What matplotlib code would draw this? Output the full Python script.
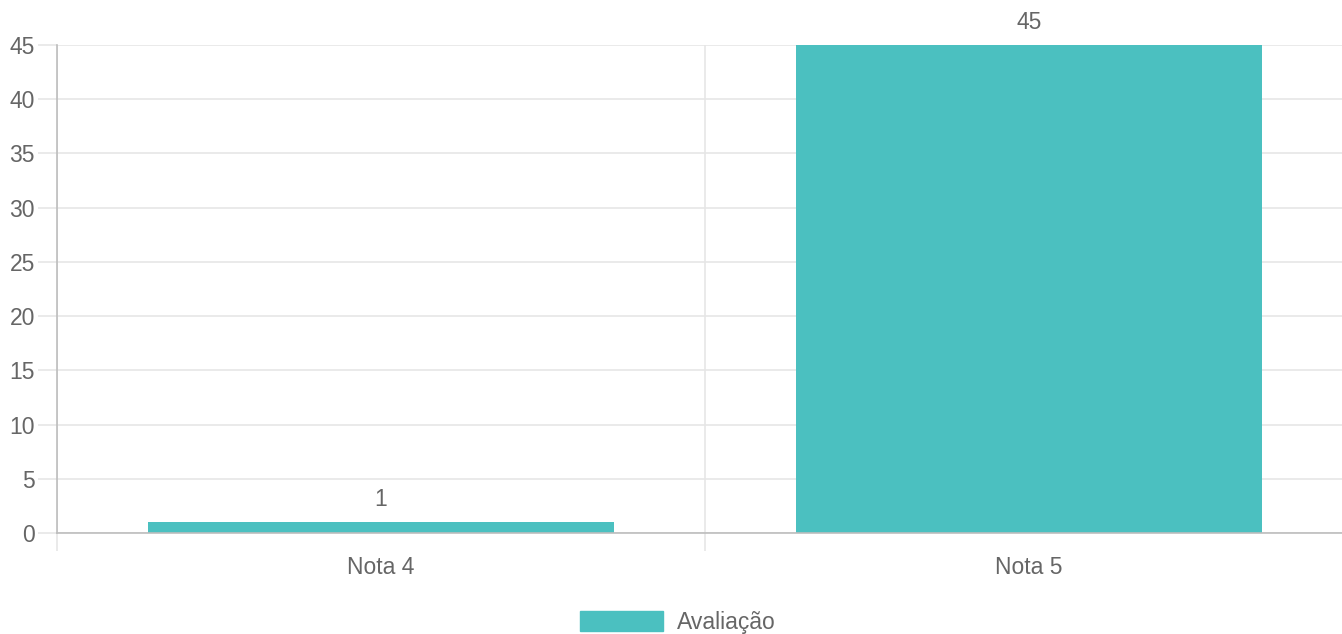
import matplotlib.pyplot as plt
from matplotlib.patches import Patch
import numpy as np

categories = ['Nota 4', 'Nota 5']
values = [1, 45]
series_name = 'Avaliação'
yticks = [0, 5, 10, 15, 20, 25, 30, 35, 40, 45]

bar_color = '#4bc0c0'
text_color = '#666666'
grid_color = '#e6e6e6'
axis_color = '#bdbdbd'

plt.rcParams['font.family'] = ['Liberation Sans', 'DejaVu Sans']
fs = 16.5

W, H = 1342, 634
fig = plt.figure(figsize=(W / 100, H / 100), dpi=100)
# axes right edge runs past the picture (chart is cropped)
ax = fig.add_axes([57 / W, (H - 533) / H, (1353 - 57) / W, (533 - 45) / H])

x = np.arange(len(categories))
bars = ax.bar(x, values, width=0.72, color=bar_color, zorder=3)

ax.set_xlim(-0.5, len(categories) - 0.5)
ax.set_ylim(0, 45)

# horizontal grid + y ticks
ax.set_yticks(yticks)
ax.set_yticklabels([str(v) for v in yticks])
ax.yaxis.grid(True, color=grid_color, linewidth=1.2, zorder=0)
ax.tick_params(axis='y', length=14, width=1.2, color=grid_color, pad=2,
               labelsize=fs, labelcolor=text_color)

# category labels on major ticks, boundary lines on minor ticks
ax.set_xticks(x)
ax.set_xticklabels(categories)
ax.tick_params(axis='x', which='major', length=0, pad=16.5,
               labelsize=fs, labelcolor=text_color)
ax.set_xticks(np.arange(-0.5, len(categories)), minor=True)
ax.xaxis.grid(True, which='minor', color=grid_color, linewidth=1.2, zorder=0)
ax.tick_params(axis='x', which='minor', length=13, width=1.2, color=grid_color)

for side in ['top', 'right']:
    ax.spines[side].set_visible(False)
for side in ['left', 'bottom']:
    ax.spines[side].set_color(axis_color)
    ax.spines[side].set_linewidth(1.2)
ax.spines['left'].set_zorder(4)
ax.spines['bottom'].set_zorder(4)

for b, v in zip(bars, values):
    ax.annotate(str(v), (b.get_x() + b.get_width() / 2, v),
                xytext=(0, 8), textcoords='offset points',
                ha='center', va='bottom', fontsize=fs, color=text_color,
                annotation_clip=False)

fig.legend(handles=[Patch(facecolor=bar_color, edgecolor=bar_color)],
           labels=[series_name], loc='upper center',
           bbox_to_anchor=(678 / W, 1 - 590 / H), frameon=False,
           handlelength=3.6, handleheight=1.0, handletextpad=0.6,
           fontsize=fs, labelcolor=text_color)

fig.savefig('out.png', dpi=100)
